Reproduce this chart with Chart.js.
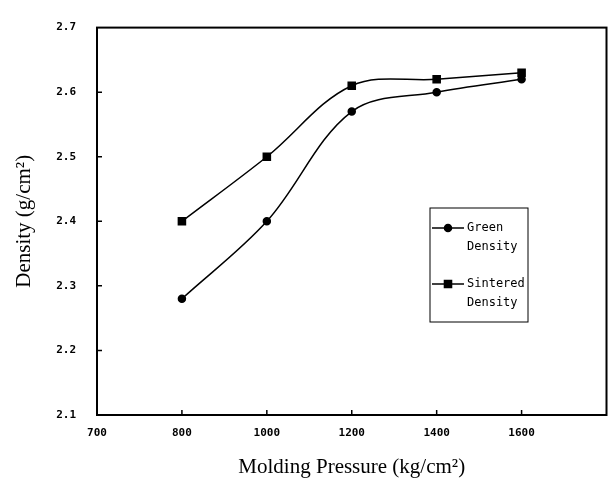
<!DOCTYPE html>
<html>
<head>
<meta charset="utf-8">
<script src="https://cdn.jsdelivr.net/npm/chart.js@4.4.1/dist/chart.umd.min.js"></script>
<style>
  html, body { margin: 0; padding: 0; background: #fff; }
  #wrap { width: 613px; height: 480px; }
</style>
</head>
<body>
<div id="wrap"><canvas id="chart" width="613" height="480"></canvas></div>
<script>
// values
const pressure = [800, 1000, 1200, 1400, 1600];
const greenDensity = [2.28, 2.40, 2.57, 2.60, 2.62];
const sinteredDensity = [2.40, 2.50, 2.61, 2.62, 2.63];

const xTickValues = [600, 800, 1000, 1200, 1400, 1600];
const xTickLabels = ['700', '800', '1000', '1200', '1400', '1600'];
const yTickValues = [2.1, 2.2, 2.3, 2.4, 2.5, 2.6, 2.7];
const yTickLabels = ['2.1', '2.2', '2.3', '2.4', '2.5', '2.6', '2.7'];

const tickFont = { family: '"DejaVu Sans Mono", monospace', size: 11, weight: 'bold' };
const titleFont = { family: '"Liberation Serif", serif', size: 21 };

// box around the plot, inward tick marks
const framePlugin = {
  id: 'frame',
  afterDraw(chart) {
    const { ctx, chartArea: a } = chart;
    const x = chart.scales.x, y = chart.scales.y;
    ctx.save();
    ctx.strokeStyle = '#000';
    ctx.lineWidth = 2;
    ctx.strokeRect(a.left, a.top, a.right - a.left, a.bottom - a.top);
    ctx.lineWidth = 1.5;
    ctx.beginPath();
    pressure.forEach(v => {
      const px = x.getPixelForValue(v);
      ctx.moveTo(px, a.bottom);
      ctx.lineTo(px, a.bottom - 5);
    });
    yTickValues.slice(1, -1).forEach(v => {
      const py = y.getPixelForValue(v);
      ctx.moveTo(a.left, py);
      ctx.lineTo(a.left + 5, py);
    });
    ctx.stroke();
    ctx.restore();
  }
};

// boxed legend inside the plot, labels on two lines
const boxLegend = {
  id: 'boxLegend',
  afterDraw(chart) {
    const ctx = chart.ctx;
    const bx = 430, by = 208, bw = 98, bh = 114;
    ctx.save();
    ctx.strokeStyle = '#000';
    ctx.lineWidth = 1;
    ctx.strokeRect(bx, by, bw, bh);
    ctx.font = '12px "DejaVu Sans Mono", monospace';
    ctx.fillStyle = '#000';
    ctx.textBaseline = 'middle';
    chart.data.datasets.forEach((ds, i) => {
      const ly = by + 20 + i * 56;
      ctx.lineWidth = 1.5;
      ctx.beginPath();
      ctx.moveTo(bx + 2, ly);
      ctx.lineTo(bx + 34, ly);
      ctx.stroke();
      Chart.helpers.drawPoint(ctx, {
        pointStyle: ds.pointStyle, radius: ds.pointRadius, rotation: 0, borderWidth: 1
      }, bx + 18, ly);
      ds.label.split(' ').forEach((w, j) => ctx.fillText(w, bx + 37, ly + j * 19));
    });
    ctx.restore();
  }
};

new Chart(document.getElementById('chart'), {
  type: 'line',
  data: {
    datasets: [
      {
        label: 'Green Density',
        data: pressure.map((p, i) => ({ x: p, y: greenDensity[i] })),
        borderColor: '#000', backgroundColor: '#000', borderWidth: 1.5,
        pointStyle: 'circle', pointRadius: 3.5, tension: 0.35
      },
      {
        label: 'Sintered Density',
        data: pressure.map((p, i) => ({ x: p, y: sinteredDensity[i] })),
        borderColor: '#000', backgroundColor: '#000', borderWidth: 1.5,
        pointStyle: 'rect', pointRadius: 5, tension: 0.35
      }
    ]
  },
  options: {
    responsive: false,
    animation: false,
    devicePixelRatio: 1,
    layout: { padding: { top: 17, right: 6, left: 0, bottom: 0 } },
    plugins: { legend: { display: false }, tooltip: { enabled: false } },
    scales: {
      x: {
        type: 'linear', min: 600, max: 1800,
        afterBuildTicks: s => { s.ticks = xTickValues.map(v => ({ value: v })); },
        afterFit: s => { s.height = 65; },
        grid: { display: false, drawTicks: false },
        border: { display: false },
        ticks: { color: '#000', font: tickFont, padding: 12, maxRotation: 0, callback: (v, i) => xTickLabels[i] },
        title: { display: true, text: 'Molding Pressure (kg/cm²)', color: '#000', font: titleFont, padding: { top: 0, bottom: 0 } }
      },
      y: {
        min: 2.1, max: 2.7,
        afterBuildTicks: s => { s.ticks = yTickValues.map(v => ({ value: v })); },
        afterFit: s => { s.width = 97; },
        grid: { display: false, drawTicks: false },
        border: { display: false },
        ticks: { color: '#000', font: tickFont, padding: 21, callback: (v, i) => yTickLabels[i] },
        title: { display: true, text: 'Density (g/cm²)', color: '#000', font: titleFont, padding: { top: 12, bottom: 0 } }
      }
    }
  },
  plugins: [framePlugin, boxLegend]
});
</script>
</body>
</html>
